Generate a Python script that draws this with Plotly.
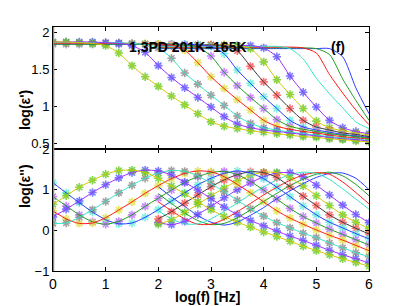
import plotly.graph_objects as go

N = None
log_f = [0.0, 0.25, 0.5, 0.75, 1.0, 1.25, 1.5, 1.75, 2.0, 2.25, 2.5, 2.75, 3.0,
         3.25, 3.5, 3.75, 4.0, 4.25, 4.5, 4.75, 5.0, 5.25, 5.5, 5.75, 6.0]

temperatures = ["201K", "198K", "195K", "192K", "189K", "186K", "183K",
                "180K", "177K", "174K", "171K", "168K", "165K"]

# log(eps') values
eps1_201K = [N, N, N, N, N, N, N, N, 1.78, 1.78, 1.78, 1.78, 1.78, 1.78, 1.78, 1.78, 1.78, 1.78, 1.78, 1.78, 1.78, 1.78, 1.67, 1.25, 0.90]
eps1_198K = [N, N, N, N, N, N, N, N, 1.79, 1.79, 1.79, 1.79, 1.79, 1.79, 1.79, 1.79, 1.79, 1.79, 1.79, 1.79, 1.78, 1.70, 1.37, 1.08, 0.81]
eps1_195K = [N, N, N, N, N, N, N, N, 1.80, 1.80, 1.80, 1.80, 1.80, 1.80, 1.80, 1.80, 1.80, 1.80, 1.80, 1.79, 1.72, 1.43, 1.18, 0.95, 0.75]
eps1_192K = [N, N, N, N, N, N, N, N, 1.81, 1.81, 1.81, 1.81, 1.81, 1.81, 1.81, 1.81, 1.81, 1.81, 1.78, 1.64, 1.38, 1.17, 0.98, 0.79, 0.70]
eps1_189K = [N, N, N, N, N, N, N, N, 1.82, 1.82, 1.82, 1.82, 1.82, 1.82, 1.82, 1.82, 1.79, 1.67, 1.41, 1.19, 0.99, 0.81, 0.71, 0.66, 0.63]
eps1_186K = [N, N, N, N, N, N, N, N, 1.83, 1.83, 1.83, 1.83, 1.83, 1.83, 1.82, 1.78, 1.60, 1.36, 1.16, 0.97, 0.80, 0.71, 0.67, 0.64, 0.61]
eps1_183K = [N, N, N, N, N, N, N, N, 1.83, 1.83, 1.83, 1.83, 1.83, 1.82, 1.75, 1.54, 1.33, 1.15, 0.97, 0.81, 0.72, 0.68, 0.64, 0.62, 0.59]
eps1_180K = [1.84, 1.84, 1.84, 1.84, 1.84, 1.84, 1.84, 1.84, 1.84, 1.84, 1.84, 1.83, 1.81, 1.71, 1.49, 1.31, 1.13, 0.97, 0.81, 0.72, 0.68, 0.65, 0.62, 0.60, 0.58]
eps1_177K = [1.84, 1.84, 1.84, 1.84, 1.84, 1.84, 1.84, 1.84, 1.84, 1.84, 1.83, 1.80, 1.68, 1.46, 1.28, 1.12, 0.97, 0.82, 0.73, 0.69, 0.66, 0.63, 0.61, 0.59, 0.57]
eps1_174K = [1.85, 1.85, 1.85, 1.85, 1.85, 1.85, 1.85, 1.85, 1.84, 1.83, 1.76, 1.59, 1.40, 1.24, 1.09, 0.95, 0.81, 0.73, 0.69, 0.66, 0.64, 0.61, 0.59, 0.57, 0.56]
eps1_171K = [1.86, 1.86, 1.86, 1.86, 1.86, 1.86, 1.85, 1.84, 1.79, 1.65, 1.45, 1.30, 1.15, 1.01, 0.87, 0.77, 0.71, 0.68, 0.65, 0.63, 0.61, 0.59, 0.57, 0.56, 0.54]
eps1_168K = [1.87, 1.87, 1.87, 1.87, 1.86, 1.85, 1.82, 1.73, 1.55, 1.39, 1.25, 1.12, 0.99, 0.86, 0.76, 0.71, 0.68, 0.66, 0.64, 0.62, 0.60, 0.58, 0.56, 0.55, 0.53]
eps1_165K = [1.87, 1.87, 1.86, 1.85, 1.82, 1.72, 1.55, 1.40, 1.27, 1.14, 1.02, 0.90, 0.79, 0.73, 0.70, 0.67, 0.65, 0.63, 0.61, 0.59, 0.58, 0.56, 0.55, 0.53, 0.52]

# log(eps'') values
eps2_201K = [N, N, N, N, N, N, N, N, 1.07, 0.82, 0.59, 0.36, 0.20, 0.13, 0.20, 0.37, 0.56, 0.78, 0.97, 1.15, 1.30, 1.40, 1.41, 1.28, 1.00]
eps2_198K = [N, N, N, N, N, N, N, N, 0.90, 0.66, 0.43, 0.24, 0.14, 0.17, 0.31, 0.50, 0.71, 0.91, 1.10, 1.26, 1.38, 1.43, 1.34, 1.13, 0.85]
eps2_195K = [N, N, N, N, N, N, N, N, 0.70, 0.48, 0.28, 0.15, 0.15, 0.27, 0.46, 0.66, 0.87, 1.06, 1.23, 1.36, 1.42, 1.38, 1.19, 0.93, 0.65]
eps2_192K = [N, N, N, N, N, N, N, N, 0.48, 0.28, 0.16, 0.16, 0.28, 0.47, 0.67, 0.88, 1.07, 1.24, 1.37, 1.43, 1.40, 1.25, 1.02, 0.77, 0.52]
eps2_189K = [N, N, N, N, N, N, N, N, 0.19, 0.14, 0.22, 0.39, 0.59, 0.80, 1.00, 1.17, 1.32, 1.41, 1.42, 1.32, 1.11, 0.87, 0.62, 0.39, 0.19]
eps2_186K = [N, N, N, N, N, N, N, N, 0.15, 0.26, 0.44, 0.64, 0.85, 1.04, 1.22, 1.35, 1.43, 1.42, 1.30, 1.09, 0.85, 0.61, 0.38, 0.20, 0.04]
eps2_183K = [N, N, N, N, N, N, N, N, 0.28, 0.46, 0.67, 0.87, 1.07, 1.24, 1.37, 1.44, 1.42, 1.30, 1.07, 0.84, 0.61, 0.38, 0.20, 0.05, -0.09]
eps2_180K = [1.17, 0.92, 0.68, 0.45, 0.26, 0.16, 0.18, 0.32, 0.51, 0.72, 0.92, 1.12, 1.28, 1.40, 1.46, 1.41, 1.27, 1.06, 0.83, 0.60, 0.38, 0.20, 0.06, -0.08, -0.21]
eps2_177K = [0.83, 0.60, 0.38, 0.21, 0.15, 0.22, 0.38, 0.59, 0.79, 0.99, 1.18, 1.32, 1.42, 1.45, 1.37, 1.20, 0.99, 0.77, 0.54, 0.34, 0.18, 0.03, -0.10, -0.23, -0.36]
eps2_174K = [0.48, 0.28, 0.17, 0.18, 0.31, 0.50, 0.70, 0.91, 1.10, 1.27, 1.40, 1.46, 1.44, 1.32, 1.13, 0.92, 0.70, 0.48, 0.30, 0.15, 0.01, -0.12, -0.24, -0.37, -0.50]
eps2_171K = [0.17, 0.18, 0.32, 0.51, 0.71, 0.92, 1.11, 1.28, 1.41, 1.47, 1.45, 1.34, 1.15, 0.95, 0.74, 0.53, 0.35, 0.19, 0.06, -0.07, -0.18, -0.31, -0.43, -0.55, -0.65]
eps2_168K = [0.33, 0.52, 0.72, 0.93, 1.12, 1.29, 1.42, 1.48, 1.46, 1.36, 1.18, 0.99, 0.78, 0.57, 0.39, 0.24, 0.11, -0.02, -0.14, -0.25, -0.37, -0.49, -0.60, -0.70, -0.80]
eps2_165K = [0.64, 0.85, 1.06, 1.23, 1.38, 1.47, 1.48, 1.42, 1.28, 1.09, 0.90, 0.70, 0.51, 0.34, 0.20, 0.08, -0.04, -0.15, -0.27, -0.39, -0.50, -0.60, -0.70, -0.79, -0.88]

eps1_curves = [eps1_201K, eps1_198K, eps1_195K, eps1_192K, eps1_189K, eps1_186K, eps1_183K,
               eps1_180K, eps1_177K, eps1_174K, eps1_171K, eps1_168K, eps1_165K]
eps2_curves = [eps2_201K, eps2_198K, eps2_195K, eps2_192K, eps2_189K, eps2_186K, eps2_183K,
               eps2_180K, eps2_177K, eps2_174K, eps2_171K, eps2_168K, eps2_165K]
has_markers = [False, False, False, False, True, True, True, True, True, True, True, True, True]

line_cycle = ["#2a3cff", "#1f9e1f", "#ff1a1a", "#33e6c8", "#9b30ff", "#d4c800", "#3a3a3a"]
marker_cycle = ["#5b5bff", "#66cc22", "#ff5050", "#5eeedd", "#bf6cff", "#e0e040", "#8a8a8a"]

fig = go.Figure()

panels = [(eps1_curves, "x2", "y2"), (eps2_curves, "x", "y")]
for curves, xa, ya in panels:
    for i, vals in enumerate(curves):
        if has_markers[i]:
            mc = marker_cycle[(i + 3) % 7]
            fig.add_trace(go.Scatter(
                x=log_f, y=vals, mode="markers", xaxis=xa, yaxis=ya,
                name=temperatures[i], showlegend=False, opacity=0.8,
                marker=dict(symbol="asterisk-open", size=7, color=mc,
                            line=dict(width=1.6, color=mc))))
    for i, vals in enumerate(curves):
        lc = line_cycle[i % 7]
        fig.add_trace(go.Scatter(
            x=log_f, y=vals, mode="lines", xaxis=xa, yaxis=ya,
            name=temperatures[i], showlegend=False,
            line=dict(color=lc, width=1, shape="spline", smoothing=0.7)))

axis_style = dict(showline=True, linecolor="black", linewidth=1, mirror="ticks",
                  ticks="inside", ticklen=4, tickcolor="black", showgrid=False,
                  zeroline=False)
tick_font = dict(family="Liberation Sans, Arial, sans-serif", size=14, color="black")

fig.update_layout(
    width=407, height=306,
    margin=dict(l=53, r=38, t=27, b=35),
    paper_bgcolor="white", plot_bgcolor="white",
    showlegend=False,
    xaxis=dict(domain=[0, 1], anchor="y", range=[0, 6],
               tickvals=[0, 1, 2, 3, 4, 5, 6], tickfont=tick_font, **axis_style),
    yaxis=dict(domain=[0, 0.5], anchor="x", range=[-1, 2],
               tickvals=[-1, 0, 1, 2], tickfont=dict(tick_font, size=13), **axis_style),
    xaxis2=dict(domain=[0, 1], anchor="y2", range=[0, 6], matches="x",
                tickvals=[0, 1, 2, 3, 4, 5, 6], showticklabels=False, **axis_style),
    yaxis2=dict(domain=[0.5, 1], anchor="x2", range=[0.423, 2.072],
                tickvals=[0.5, 1, 1.5, 2], ticktext=["0.5", "1", "1.5", "2"],
                tickfont=dict(tick_font, size=13), **axis_style),
)

fig.add_shape(type="line", xref="x", yref="paper", x0=0, x1=0, y0=0, y1=1,
              line=dict(color="#8c8c8c", width=2.5))

bold = dict(family="Liberation Sans, Arial, sans-serif", size=14, color="black")
fig.add_annotation(text="<b>1,3PD 201K\u2013165K</b>", xref="paper", yref="paper",
                   x=0.427, y=0.959, showarrow=False, font=bold)
fig.add_annotation(text="<b>(f)</b>", xref="paper", yref="paper",
                   x=0.93, y=0.959, showarrow=False, font=bold)
fig.add_annotation(text="<b>log(\u03b5')</b>", xref="paper", yref="paper",
                   x=-0.12, y=0.75, showarrow=False, textangle=-90, font=bold)
fig.add_annotation(text="<b>log(\u03b5'')</b>", xref="paper", yref="paper",
                   x=-0.12, y=0.25, showarrow=False, textangle=-90, font=bold)
fig.add_annotation(text="<b>log(f) [Hz]</b>", xref="paper", yref="paper",
                   x=0.49, y=-0.106, yanchor="middle", showarrow=False, font=bold)

fig.write_html("out.html", config={"displayModeBar": False},
               post_script="document.body.style.margin='0';document.body.style.overflow='hidden';")
